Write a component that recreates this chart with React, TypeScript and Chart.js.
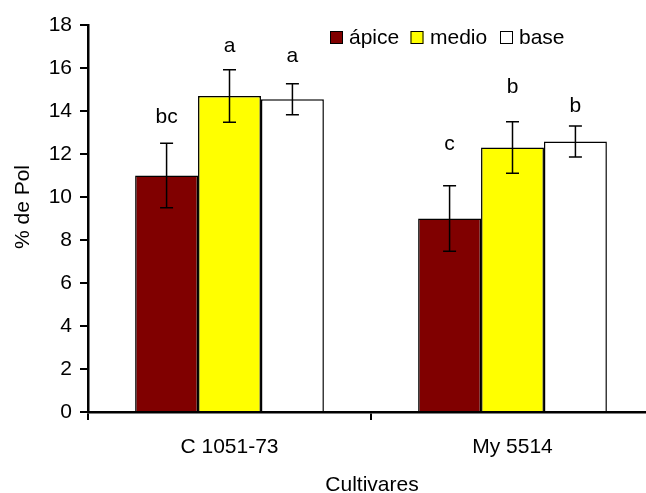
import React, { useEffect, useRef } from "react";
import { Chart, registerables } from "chart.js";

Chart.register(...registerables);

const categories = ["C 1051-73", "My 5514"];
const seriesNames = ["ápice", "medio", "base"];
const apiceValues = [11.0, 9.0];
const medioValues = [14.7, 12.3];
const baseValues = [14.55, 12.58];
const apiceErrors = [1.5, 1.52];
const medioErrors = [1.22, 1.2];
const baseErrors = [0.72, 0.72];
const apiceLetters = ["bc", "c"];
const medioLetters = ["a", "b"];
const baseLetters = ["a", "b"];
const apiceLetterY = [13.44, 12.19];
const medioLetterY = [16.74, 14.84];
const baseLetterY = [16.28, 13.95];
const yTicksMin = 0;
const yTicksMax = 18;
const yTickStep = 2;
const colors = ["#800000", "#FFFF00", "#FFFFFF"];

const FONT = "'Liberation Sans', Arial, Helvetica, sans-serif";
const FS = 21;

export default function App() {
  const ref = useRef<HTMLCanvasElement | null>(null);

  useEffect(() => {
    const canvas = ref.current;
    if (!canvas) return;
    const errors = [apiceErrors, medioErrors, baseErrors];
    const letters = [apiceLetters, medioLetters, baseLetters];
    const letterY = [apiceLetterY, medioLetterY, baseLetterY];

    const overlay = {
      id: "overlay",
      afterDatasetsDraw(chart: any) {
        const ctx = chart.ctx;
        const y = chart.scales.y;
        ctx.save();
        ctx.strokeStyle = "#000";
        ctx.lineWidth = 1.5;
        chart.data.datasets.forEach((ds: any, i: number) => {
          const meta = chart.getDatasetMeta(i);
          meta.data.forEach((bar: any, j: number) => {
            const v = ds.data[j];
            const e = errors[i][j];
            const x = bar.x;
            const yt = y.getPixelForValue(v + e);
            const yb = y.getPixelForValue(v - e);
            ctx.strokeStyle = "#000";
            ctx.lineWidth = 1.5;
            ctx.beginPath();
            ctx.moveTo(x, yt);
            ctx.lineTo(x, yb);
            ctx.moveTo(x - 6.5, yt);
            ctx.lineTo(x + 6.5, yt);
            ctx.moveTo(x - 6.5, yb);
            ctx.lineTo(x + 6.5, yb);
            ctx.stroke();
            ctx.fillStyle = "#000";
            ctx.font = `${FS}px ${FONT}`;
            ctx.textAlign = "center";
            ctx.textBaseline = "alphabetic";
            ctx.fillText(letters[i][j], x, y.getPixelForValue(letterY[i][j]));
          });
        });
        // legend
        const boxX = [330, 410.5, 500];
        const textX = [349, 430, 519];
        ctx.font = `${FS}px ${FONT}`;
        ctx.textAlign = "left";
        ctx.textBaseline = "alphabetic";
        ctx.lineWidth = 1;
        seriesNames.forEach((name, i) => {
          ctx.fillStyle = colors[i];
          ctx.fillRect(boxX[i], 31, 13, 13);
          ctx.strokeStyle = "#000";
          ctx.strokeRect(boxX[i] + 0.5, 31.5, 12, 12);
          ctx.fillStyle = "#000";
          ctx.fillText(name, textX[i], 44);
        });
        // axis titles
        ctx.textAlign = "center";
        ctx.fillText("Cultivares", 372, 491);
        ctx.translate(29, 207);
        ctx.rotate(-Math.PI / 2);
        ctx.fillText("% de Pol", 0, 0);
        ctx.restore();
      },
    };

    const chart = new Chart(canvas, {
      type: "bar",
      data: {
        labels: categories,
        datasets: [apiceValues, medioValues, baseValues].map((d, i) => ({
          label: seriesNames[i],
          data: d,
          backgroundColor: colors[i],
          borderColor: "#000",
          borderWidth: 1.5,
          categoryPercentage: 0.667,
          barPercentage: 1.0,
        })),
      },
      options: {
        responsive: false,
        animation: false,
        devicePixelRatio: 1,
        layout: { padding: { left: 0, right: 0, top: 25, bottom: 0 } },
        plugins: {
          legend: { display: false },
          tooltip: { enabled: false },
        },
        scales: {
          x: {
            afterFit: (s: any) => {
              s.height = 81;
            },
            grid: {
              display: true,
              drawOnChartArea: false,
              drawTicks: true,
              tickLength: 8,
              color: "#000",
              lineWidth: 2,
              offset: true,
            },
            border: { display: true, color: "#000", width: 2.5 },
            ticks: {
              color: "#000",
              font: { family: FONT, size: FS },
              padding: 15,
            },
          },
          y: {
            min: yTicksMin,
            max: yTicksMax,
            afterFit: (s: any) => {
              s.width = 88;
            },
            grid: {
              display: true,
              drawOnChartArea: false,
              drawTicks: true,
              tickLength: 8,
              color: "#000",
              lineWidth: 2,
            },
            border: { display: true, color: "#000", width: 2.5 },
            ticks: {
              stepSize: yTickStep,
              color: "#000",
              font: { family: FONT, size: FS },
              padding: 8,
            },
          },
        },
      },
      plugins: [overlay],
    });
    return () => chart.destroy();
  }, []);

  return (
    <div style={{ position: "fixed", left: 0, top: 0, width: 654, height: 493, background: "#fff" }}>
      <canvas ref={ref} width={654} height={493} style={{ display: "block" }} />
    </div>
  );
}
